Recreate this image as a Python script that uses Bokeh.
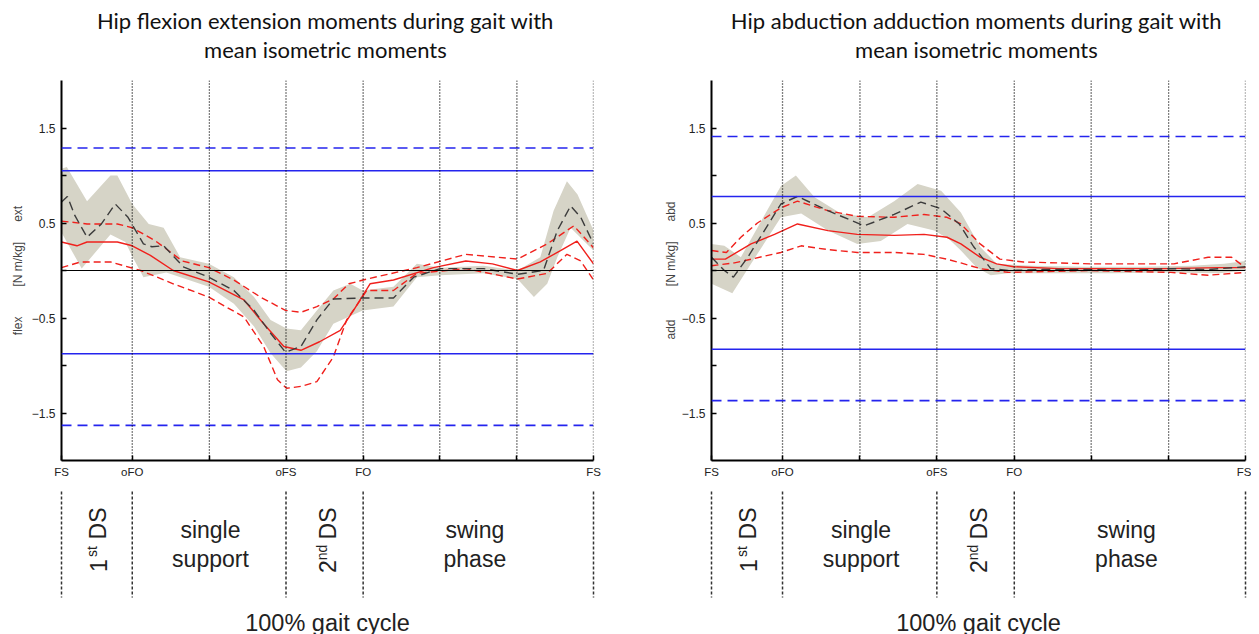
import math
from bokeh.plotting import figure
from bokeh.layouts import row, column
from bokeh.models import Range1d, FixedTicker, Span
from bokeh.core.properties import value
from bokeh.embed import file_html
from bokeh.resources import INLINE

# ---------------- data ----------------
EVENT_TICKS = [0, 13.3, 27.8, 42.2, 56.7, 71.1, 85.6, 100]
EVENT_LABELS = ["FS", "oFO", "", "oFS", "FO", "", "", "FS"]
PHASE_EVENTS = [0, 13.3, 42.2, 56.7, 100]

Y_LABEL_TICKS = [-1.5, -0.5, 0.5, 1.5]
Y_MINOR_TICKS = [-1.0, 0.0, 1.0]

# --- flexion / extension (left) ---
FE_GAIT_X = [0, 1.1, 2.5, 4.8, 7.5, 10.1, 12.5, 15.4, 17, 19.2, 23, 27.7, 32.4, 36.2, 39.3, 42.1, 45, 48,
             51.1, 56.6, 62.4, 66.2, 71.2, 79.3, 85.7, 90.6, 93.2, 95.7, 97.6, 100]
FE_GAIT_MEAN = [0.72, 0.78, 0.58, 0.35, 0.49, 0.70, 0.56, 0.28, 0.25, 0.26, 0.035, -0.07, -0.21, -0.42, -0.66,
                -0.86, -0.80, -0.52, -0.30, -0.29, -0.29, -0.07, 0.02, 0.02, -0.04, 0.0, 0.42, 0.68, 0.56, 0.28]
FE_BAND_UP_X = [0, 1, 4.8, 9.2, 10.5, 13.3, 16.4, 19.2, 22.3, 27.7, 32.4, 36.2, 39.3, 42.3, 45, 48, 51.1, 54.3,
                56.6, 62.4, 66.8, 71.2, 79.3, 85.7, 90, 92.5, 95, 97, 100]
FE_BAND_UP = [1.07, 1.09, 0.73, 1.0, 1.0, 0.7, 0.49, 0.45, 0.14, 0.07, -0.07, -0.28, -0.52, -0.61, -0.63, -0.42,
              -0.21, -0.14, -0.21, -0.17, 0.07, 0.03, 0.05, 0.0, 0.14, 0.63, 0.94, 0.80, 0.42]
FE_BAND_LO_X = [0, 3.8, 9.2, 12, 13.3, 15.4, 19.7, 27.7, 32.4, 36.2, 39.3, 42.3, 45, 48, 51.1, 56.6, 62.4, 66.8,
                71.2, 79.3, 85.7, 88.8, 91.3, 93.2, 95.7, 100]
FE_BAND_LO = [0.40, 0.02, 0.38, 0.30, 0.15, -0.07, -0.02, -0.17, -0.35, -0.59, -0.87, -1.06, -1.02, -0.85, -0.56,
              -0.42, -0.38, -0.07, -0.05, -0.03, -0.09, -0.28, -0.14, 0.14, 0.45, 0.21]
FE_ISO_X = [0, 2.9, 4.8, 10.5, 13.3, 16.7, 21, 27.7, 34.3, 38, 41.8, 45, 48.5, 52.4, 54.9, 58, 62.4, 69.9, 76,
            81, 85.7, 90, 93.8, 96.9, 100]
FE_ISO_MEAN = [0.30, 0.26, 0.30, 0.30, 0.26, 0.16, 0.0, -0.12, -0.31, -0.56, -0.80, -0.84, -0.75, -0.63, -0.42,
               -0.14, -0.10, 0.03, 0.10, 0.07, 0.0, 0.09, 0.21, 0.31, 0.07]
FE_ISO_UP_X = [0, 4.8, 10.5, 13.3, 17.7, 22.7, 27.7, 32.4, 37.4, 42.1, 45, 48, 51.1, 54, 57.4, 66.8, 76, 85.7,
               91.3, 96.3, 100]
FE_ISO_UP = [0.52, 0.49, 0.49, 0.45, 0.31, 0.10, 0.03, -0.10, -0.28, -0.42, -0.44, -0.38, -0.30, -0.14, -0.09,
             0.03, 0.17, 0.12, 0.28, 0.47, 0.24]
FE_ISO_LO_X = [0, 3.6, 9.2, 14.9, 21, 27.7, 34.3, 38, 40.6, 42.3, 45, 48, 51.1, 53.6, 57.4, 62.4, 66.8, 76, 85.7,
               91.3, 95, 97.6, 100]
FE_ISO_LO = [0.03, 0.09, 0.09, 0.0, -0.14, -0.28, -0.49, -0.80, -1.15, -1.24, -1.22, -1.17, -0.91, -0.52, -0.21,
             -0.21, -0.03, 0.02, -0.09, -0.03, 0.17, 0.10, -0.10]
FE_ISO_LINES = [1.05, -0.875]          # mean isometric moments (solid)
FE_ISO_LINES_SD = [1.29, -1.63]        # dashed

# --- abduction / adduction (right) ---
AA_GAIT_X = [0, 2.4, 4.1, 6.8, 13, 16.1, 21.8, 28.6, 34.2, 39.2, 43, 46.4, 49.1, 52.3, 55.5, 62, 70, 78, 86, 93, 100]
AA_GAIT_MEAN = [0.14, 0.0, -0.07, 0.14, 0.70, 0.78, 0.63, 0.47, 0.59, 0.72, 0.65, 0.49, 0.25, 0.02, 0.0, 0.01,
                0.01, 0.0, 0.02, 0.01, 0.04]
AA_BAND_UP_X = [0, 2.4, 5.5, 8.6, 13, 15.8, 19.3, 24.2, 29.3, 34.2, 38.6, 43, 46.7, 50.3, 53.4, 60, 70, 80, 90,
                96, 100]
AA_BAND_UP = [0.28, 0.26, 0.14, 0.45, 0.89, 1.0, 0.77, 0.60, 0.56, 0.73, 0.91, 0.84, 0.61, 0.25, 0.07, 0.05,
              0.04, 0.04, 0.05, 0.07, 0.10]
AA_BAND_LO_X = [0, 3.9, 7.4, 13, 16.8, 21.8, 27.3, 31.7, 36.7, 41.7, 44.5, 46.7, 49.7, 52.3, 55.5, 65, 75, 85,
                95, 100]
AA_BAND_LO = [-0.14, -0.24, 0.07, 0.56, 0.60, 0.42, 0.28, 0.31, 0.49, 0.42, 0.33, 0.21, 0.03, -0.05, -0.03,
              -0.03, -0.03, -0.02, -0.03, 0.0]
AA_ISO_X = [0, 2.6, 7.4, 11.8, 16.1, 21.8, 27.3, 34.2, 39.8, 44.1, 46.7, 50.3, 53.4, 56.6, 65, 75, 85, 95, 100]
AA_ISO_MEAN = [0.12, 0.12, 0.28, 0.38, 0.49, 0.42, 0.38, 0.37, 0.38, 0.35, 0.28, 0.14, 0.07, 0.04, 0.02, 0.02,
               0.02, 0.03, 0.03]
AA_ISO_UP_X = [0, 2.8, 5.5, 8.6, 13, 16.1, 21.8, 27.3, 34.2, 39.8, 44.1, 46.7, 50.3, 54, 58.4, 71, 86.6, 93,
               97.4, 100]
AA_ISO_UP = [0.21, 0.19, 0.35, 0.50, 0.66, 0.73, 0.63, 0.57, 0.56, 0.59, 0.56, 0.49, 0.28, 0.12, 0.09, 0.07,
             0.07, 0.14, 0.14, 0.03]
AA_ISO_LO_X = [0, 4.3, 13, 16.8, 21.8, 27.3, 34.2, 39.8, 44, 46.7, 50.3, 55.5, 71, 86, 93, 100]
AA_ISO_LO = [0.05, 0.08, 0.19, 0.26, 0.22, 0.19, 0.19, 0.17, 0.12, 0.08, 0.02, -0.02, 0.0, -0.02, -0.05, -0.02]
AA_ISO_LINES = [0.78, -0.83]
AA_ISO_LINES_SD = [1.41, -1.37]

TITLES_FE = ["Hip flexion extension moments during gait with", "mean isometric moments"]
TITLES_AA = ["Hip abduction adduction moments during gait with", "mean isometric moments"]
NB = "\u00a0"
YLABEL_FE = "flex" + NB * 9 + "[N m/kg]" + NB * 6 + "ext"
YLABEL_AA = "add" + NB * 10 + "[N m/kg]" + NB * 6 + "abd"

# phase annotation texts (x in % gait cycle)
PHASE_H_TEXT = ["single", "support", "swing", "phase"]
PHASE_H_X = [28.0, 28.0, 77.7, 77.7]
DS_MAIN_TEXT = ["1", "DS", "2", "DS"]
DS_MAIN_X = [6.9, 6.9, 50.0, 50.0]
DS_SUP_TEXT = ["st", "nd"]
DS_SUP_X = [5.8, 48.9]
XLABEL = "100% gait cycle"

# ---------------- style / layout ----------------
BAND = "#d6d4c7"
RED = "#f0201c"
BLUE = "#2424ee"
GAIT = "#3c3c3c"
FONT = "Liberation Sans"
TFONT = "Lato"

HEAD_H = 80
TOP_H = 410
LOW_H = 144
BOTTOM_BORDER = 30


def make_head(titles, width, bl, br):
    ppu = (width - bl - br) / 100.0
    h = figure(width=width, height=HEAD_H,
               x_range=Range1d(-bl / ppu, 100 + br / ppu), y_range=Range1d(0, HEAD_H),
               x_axis_type=None, y_axis_type=None, output_backend="svg", toolbar_location=None,
               min_border_left=0, min_border_right=0, min_border_top=0, min_border_bottom=0,
               frame_align=False)
    h.outline_line_color = None
    h.grid.visible = False
    h.text(x=[49.6, 49.6], y=[HEAD_H - 20.0, HEAD_H - 49.0], text=titles,
           text_align="center", text_baseline="middle", text_font=value(TFONT),
           text_font_size="22px", text_color="#111111")
    return h


def make_top(ylabel, band_up_x, band_up, band_lo_x, band_lo, gait_x, gait_mean,
             iso_x, iso_mean, iso_up_x, iso_up, iso_lo_x, iso_lo, iso_lines, iso_sd,
             width, bl, br, label_standoff):
    p = figure(width=width, height=TOP_H, x_range=Range1d(0, 100), y_range=Range1d(-2, 2),
               output_backend="svg", toolbar_location=None,
               min_border_left=bl, min_border_right=br, min_border_top=0, min_border_bottom=BOTTOM_BORDER,
               frame_align=False)
    p.outline_line_color = None
    p.grid.visible = False

    # gray band (gait SD)
    px = list(band_up_x) + list(reversed(band_lo_x))
    py = list(band_up) + list(reversed(band_lo))
    p.patch(px, py, fill_color=BAND, line_color=None)

    p.add_layout(Span(location=0, dimension="width", line_color="black", line_width=1))
    for v in iso_lines:
        p.add_layout(Span(location=v, dimension="width", line_color=BLUE, line_width=1.5))
    for v in iso_sd:
        p.add_layout(Span(location=v, dimension="width", line_color=BLUE, line_width=1.6, line_dash="10 6"))

    p.line(iso_up_x, iso_up, line_color=RED, line_width=1.4, line_dash="7 4")
    p.line(iso_lo_x, iso_lo, line_color=RED, line_width=1.4, line_dash="7 4")
    p.line(iso_x, iso_mean, line_color=RED, line_width=1.4)
    p.line(gait_x, gait_mean, line_color=GAIT, line_width=1.4, line_dash="9 5")

    for t in EVENT_TICKS[1:]:
        p.add_layout(Span(location=t, dimension="height", line_color="black", line_width=1.3,
                          line_dash="1 2"))

    xa = p.xaxis[0]
    xa.ticker = FixedTicker(ticks=EVENT_TICKS, minor_ticks=[])
    xa.major_label_overrides = {t: l for t, l in zip(EVENT_TICKS, EVENT_LABELS)}
    xa.major_tick_in = 5
    xa.major_tick_out = 0
    xa.minor_tick_line_color = None
    xa.axis_line_width = 2
    xa.major_tick_line_width = 1.5
    xa.major_label_standoff = 5
    xa.major_label_text_font = FONT
    xa.major_label_text_font_size = "11.5px"
    xa.major_label_text_color = "#222222"

    ya = p.yaxis[0]
    ya.ticker = FixedTicker(ticks=Y_LABEL_TICKS, minor_ticks=Y_MINOR_TICKS)
    ya.major_tick_in = 5
    ya.major_tick_out = 0
    ya.minor_tick_in = 5
    ya.minor_tick_out = 0
    ya.minor_tick_line_width = 1.5
    ya.major_tick_line_width = 1.5
    ya.axis_line_width = 2
    ya.major_label_standoff = 6
    ya.major_label_text_font = FONT
    ya.major_label_text_font_size = "12px"
    ya.major_label_text_color = "#222222"
    ya.axis_label = ylabel
    ya.axis_label_text_font = FONT
    ya.axis_label_text_font_style = "normal"
    ya.axis_label_text_font_size = "12px"
    ya.axis_label_standoff = label_standoff
    return p


def make_low(width, bl, br):
    ppu = (width - bl - br) / 100.0
    q = figure(width=width, height=LOW_H,
               x_range=Range1d(-bl / ppu, 100 + br / ppu), y_range=Range1d(0, LOW_H),
               x_axis_type=None, y_axis_type=None,
               output_backend="svg", toolbar_location=None,
               min_border_left=0, min_border_right=0, min_border_top=0, min_border_bottom=0,
               frame_align=False)
    q.outline_line_color = None
    q.grid.visible = False
    n = len(PHASE_EVENTS)
    q.segment(x0=PHASE_EVENTS, y0=[LOW_H - 1] * n, x1=PHASE_EVENTS, y1=[LOW_H - 107] * n,
              line_color="#333333", line_width=1.5, line_dash="3 2")
    q.text(x=PHASE_H_X, y=[LOW_H - 39, LOW_H - 68, LOW_H - 39, LOW_H - 68], text=PHASE_H_TEXT,
           text_align="center", text_baseline="middle", text_font=value(FONT),
           text_font_size="23px", text_color="#222222")
    q.text(x=DS_MAIN_X, y=[LOW_H - 75, LOW_H - 33, LOW_H - 76, LOW_H - 33], text=DS_MAIN_TEXT,
           angle=math.pi / 2, text_align="center", text_baseline="middle", text_font=value(FONT),
           text_font_size="23px", text_color="#222222")
    q.text(x=DS_SUP_X, y=[LOW_H - 61, LOW_H - 62], text=DS_SUP_TEXT,
           angle=math.pi / 2, text_align="center", text_baseline="middle", text_font=value(FONT),
           text_font_size="14px", text_color="#222222")
    q.text(x=[50.0], y=[LOW_H - 132], text=[XLABEL],
           text_align="center", text_baseline="middle", text_font=value(FONT),
           text_font_size="23.5px", text_color="#222222")
    return q


LW, LBL, LBR = 629, 61, 36
RW, RBL, RBR = 622, 82, 6

h1 = make_head(TITLES_FE, LW, LBL, LBR)
p1 = make_top(YLABEL_FE, FE_BAND_UP_X, FE_BAND_UP, FE_BAND_LO_X, FE_BAND_LO, FE_GAIT_X, FE_GAIT_MEAN,
              FE_ISO_X, FE_ISO_MEAN, FE_ISO_UP_X, FE_ISO_UP, FE_ISO_LO_X, FE_ISO_LO, FE_ISO_LINES, FE_ISO_LINES_SD,
              LW, LBL, LBR, 4)
q1 = make_low(LW, LBL, LBR)
h2 = make_head(TITLES_AA, RW, RBL, RBR)
p2 = make_top(YLABEL_AA, AA_BAND_UP_X, AA_BAND_UP, AA_BAND_LO_X, AA_BAND_LO, AA_GAIT_X, AA_GAIT_MEAN,
              AA_ISO_X, AA_ISO_MEAN, AA_ISO_UP_X, AA_ISO_UP, AA_ISO_LO_X, AA_ISO_LO, AA_ISO_LINES, AA_ISO_LINES_SD,
              RW, RBL, RBR, 1)
q2 = make_low(RW, RBL, RBR)

layout = row(column(h1, p1, q1), column(h2, p2, q2))
open("out.html", "w").write(file_html(layout, INLINE))
